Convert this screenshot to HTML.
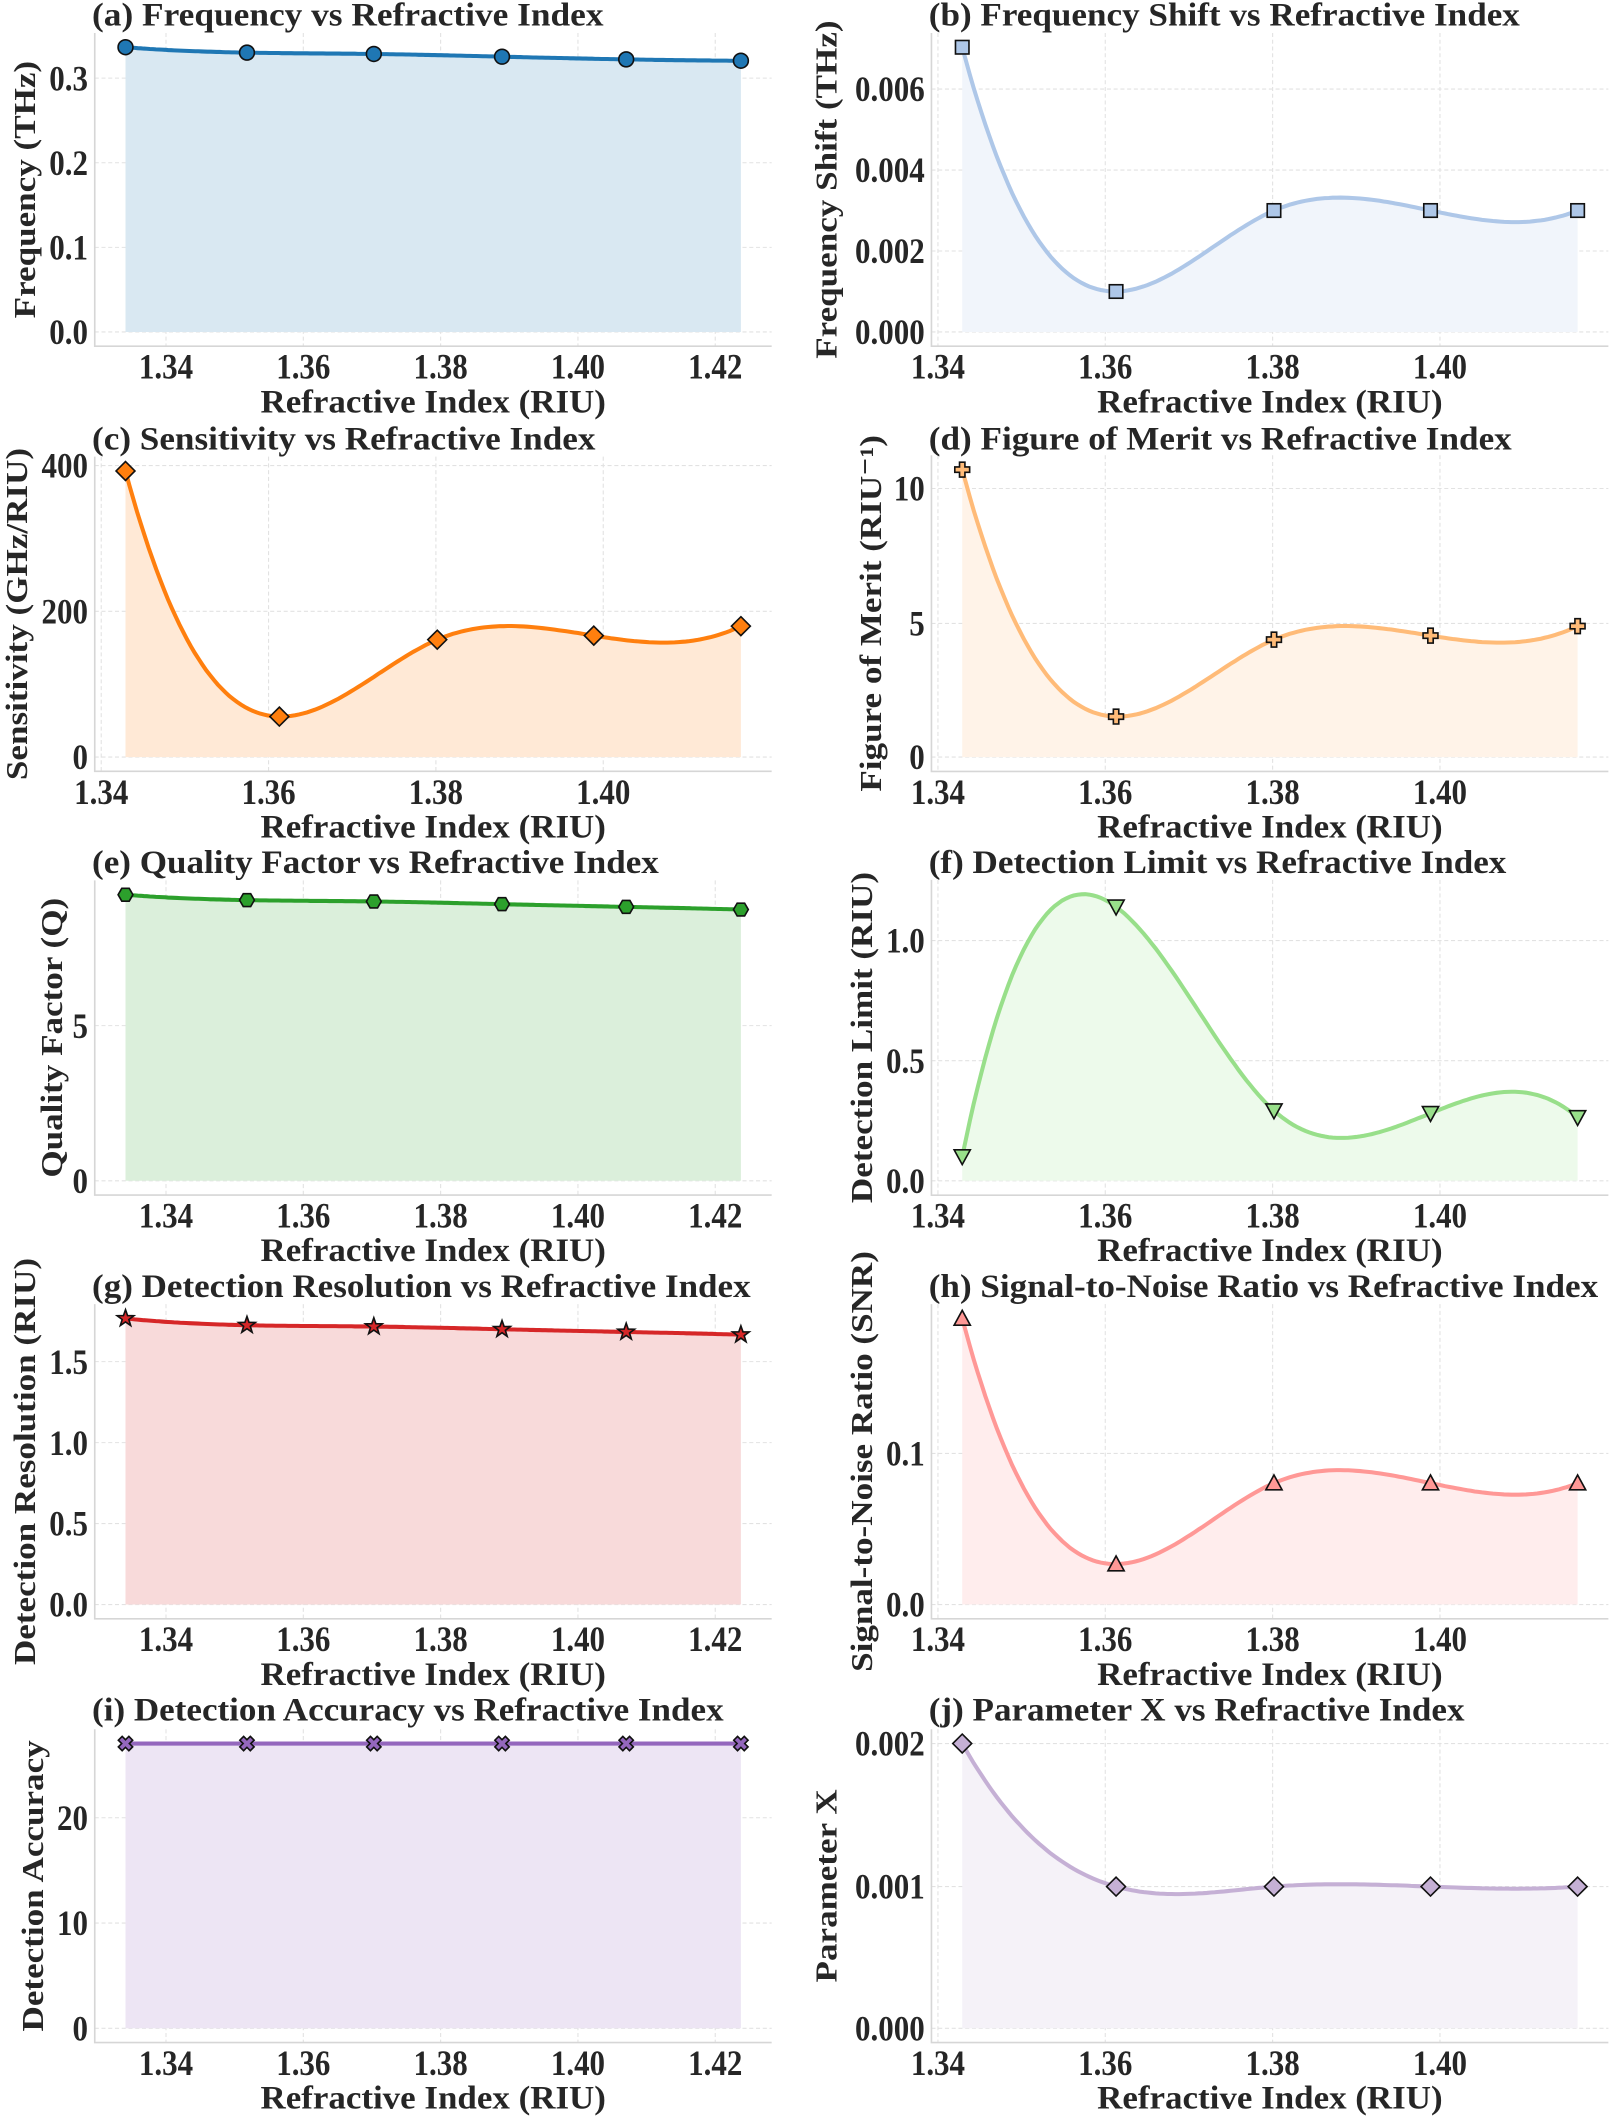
<!DOCTYPE html>
<html><head><meta charset="utf-8"><style>
html,body{margin:0;padding:0;background:#fff;}
svg{display:block;}
text{font-family:"Liberation Serif","DejaVu Serif",serif;font-weight:bold;fill:#262626;}
</style></head><body>
<svg id="s" width="1610" height="2116" viewBox="0 0 1193 1568" preserveAspectRatio="none" xmlns="http://www.w3.org/2000/svg"></svg>
<script>
const S=document.getElementById('s');let h='';
const L6=[93,183,277,372,464,549],L5=[93,207,324,440,549];
const P=[
{t:'(a) Frequency vs Refractive Index',tw:379,yl:'Frequency (THz)',ylx:18,col:0,r:0,xs:L6,ys:[35,39,40,42,44,45],z:246,c:'#1f77b4',m:'o',yt:[['0.0',246],['0.1',183.3],['0.2',120.6],['0.3',57.9]]},
{t:'(b) Frequency Shift vs Refractive Index',tw:438,yl:'Frequency Shift (THz)',ylx:612,col:1,r:0,xs:L5,ys:[35,216,156,156,156],z:246,c:'#aec7e8',m:'s',yt:[['0.000',246],['0.002',186],['0.004',126],['0.006',66]]},
{t:'(c) Sensitivity vs Refractive Index',tw:373,yl:'Sensitivity (GHz/RIU)',ylx:12,col:0,r:1,xs:L5,ys:[349,531,474,471,464],z:561,c:'#ff7f0e',m:'D',yt:[['0',561],['200',453],['400',345]]},
{t:'(d) Figure of Merit vs Refractive Index',tw:432,yl:'Figure of Merit (RIU\u207B\u00B9)',ylx:645,col:1,r:1,xs:L5,ys:[348,531,474,471,464],z:561,c:'#ffbb78',m:'P',yt:[['0',561],['5',462],['10',362]]},
{t:'(e) Quality Factor vs Refractive Index',tw:420,yl:'Quality Factor (Q)',ylx:38,col:0,r:2,xs:L6,ys:[663,667,668,670,672,674],z:875,c:'#2ca02c',m:'h',yt:[['0',875],['5',760]]},
{t:'(f) Detection Limit vs Refractive Index',tw:428,yl:'Detection Limit (RIU)',ylx:638,col:1,r:2,xs:L5,ys:[857,672,823,825,828],z:875,c:'#98df8a',m:'v',yt:[['0.0',875],['0.5',786],['1.0',697]]},
{t:'(g) Detection Resolution vs Refractive Index',tw:488,yl:'Detection Resolution (RIU)',ylx:18,col:0,r:3,xs:L6,ys:[977,982,983,985,987,989],z:1189,c:'#d62728',m:'*',yt:[['0.0',1189],['0.5',1129],['1.0',1069],['1.5',1009]]},
{t:'(h) Signal-to-Noise Ratio vs Refractive Index',tw:496,yl:'Signal-to-Noise Ratio (SNR)',ylx:638,col:1,r:3,xs:L5,ys:[977,1159,1099,1099,1099],z:1189,c:'#ff9896',m:'^',yt:[['0.0',1189],['0.1',1077]]},
{t:'(i) Detection Accuracy vs Refractive Index',tw:468,yl:'Detection Accuracy',ylx:24,col:0,r:4,xs:L6,ys:[1292,1292,1292,1292,1292,1292],z:1503,c:'#9467bd',m:'X',yt:[['0',1503],['10',1425],['20',1347]]},
{t:'(j) Parameter X vs Refractive Index',tw:397,yl:'Parameter X',ylx:612,col:1,r:4,xs:L5,ys:[1292,1398,1398,1398,1398],z:1503,c:'#c5b0d5',m:'D',yt:[['0.000',1503],['0.001',1398],['0.002',1292]]}
];
function spline(x,y){const n=x.length,hh=[];for(let i=0;i<n-1;i++)hh.push(x[i+1]-x[i]);
const A=[],B=[];for(let i=0;i<n;i++){A.push(new Array(n).fill(0));B.push(0);}
for(let i=1;i<n-1;i++){A[i][i-1]=hh[i-1];A[i][i]=2*(hh[i-1]+hh[i]);A[i][i+1]=hh[i];B[i]=6*((y[i+1]-y[i])/hh[i]-(y[i]-y[i-1])/hh[i-1]);}
A[0][0]=-1/hh[0];A[0][1]=1/hh[0]+1/hh[1];A[0][2]=-1/hh[1];
A[n-1][n-3]=-1/hh[n-3];A[n-1][n-2]=1/hh[n-3]+1/hh[n-2];A[n-1][n-1]=-1/hh[n-2];
for(let k=0;k<n;k++){let p=k;for(let i=k+1;i<n;i++)if(Math.abs(A[i][k])>Math.abs(A[p][k]))p=i;[A[k],A[p]]=[A[p],A[k]];[B[k],B[p]]=[B[p],B[k]];
for(let i=0;i<n;i++)if(i!==k){const f=A[i][k]/A[k][k];for(let j=k;j<n;j++)A[i][j]-=f*A[k][j];B[i]-=f*B[k];}}
const M=B.map((b,i)=>b/A[i][i]);const pts=[];
for(let i=0;i<n-1;i++){const H=hh[i];for(let s=0;s<=40;s++){const t=x[i]+H*s/40;const a=x[i+1]-t,b=t-x[i];
pts.push([t,M[i]*a*a*a/(6*H)+M[i+1]*b*b*b/(6*H)+(y[i]/H-M[i]*H/6)*a+(y[i+1]/H-M[i+1]*H/6)*b]);}}return pts;}
function marker(m,x,y,c){const st=`fill="${c}" stroke="#111" stroke-width="1.2"`;
if(m==='o')return `<circle cx="${x}" cy="${y}" r="5.5" ${st}/>`;
if(m==='s')return `<rect x="${x-5}" y="${y-5}" width="10" height="10" ${st}/>`;
if(m==='D')return `<polygon points="${x},${y-7} ${x+7},${y} ${x},${y+7} ${x-7},${y}" ${st}/>`;
if(m==='v')return `<polygon points="${x-6},${y-5} ${x+6},${y-5} ${x},${y+6}" ${st}/>`;
if(m==='^')return `<polygon points="${x-6},${y+5} ${x+6},${y+5} ${x},${y-6}" ${st}/>`;
if(m==='h'){let p=[];for(let k=0;k<6;k++){const a=Math.PI/3*k+Math.PI/6;p.push((x+5.5*Math.sin(a))+','+(y-5.5*Math.cos(a)));}return `<polygon points="${p.join(' ')}" ${st}/>`;}
if(m==='*'){let p=[];for(let k=0;k<10;k++){const rr=k%2?2.6:6.5,a=Math.PI/5*k;p.push((x+rr*Math.sin(a))+','+(y-rr*Math.cos(a)));}return `<polygon points="${p.join(' ')}" ${st}/>`;}
if(m==='P'){const a=2,b=5.5;return `<polygon points="${x-a},${y-b} ${x+a},${y-b} ${x+a},${y-a} ${x+b},${y-a} ${x+b},${y+a} ${x+a},${y+a} ${x+a},${y+b} ${x-a},${y+b} ${x-a},${y+a} ${x-b},${y+a} ${x-b},${y-a} ${x-a},${y-a}" ${st}/>`;}
if(m==='X'){return `<g transform="translate(${x},${y}) rotate(45)"><polygon points="-2,-5.5 2,-5.5 2,-2 5.5,-2 5.5,2 2,2 2,5.5 -2,5.5 -2,2 -5.5,2 -5.5,-2 -2,-2" ${st}/></g>`;}}
function hex(c,a){const r=parseInt(c.slice(1,3),16),g=parseInt(c.slice(3,5),16),b=parseInt(c.slice(5,7),16);return `rgb(${Math.round(255-a*(255-r))},${Math.round(255-a*(255-g))},${Math.round(255-a*(255-b))})`;}
for(const p of P){const off=p.col*620,xs=p.xs.map(v=>v+off);
const pts=spline(xs,p.ys);let mn=Math.min(...pts.map(q=>q[1]));
const top=mn-0.05*(p.z-mn),bot=p.z+0.05*(p.z-mn);
const Lx=xs[0]-22.8,Rx=xs[xs.length-1]+22.8;
let xt;if(xs.length===6)xt=['1.34','1.36','1.38','1.40','1.42'].map((s,i)=>[s,123+off+101.75*i]);
else xt=['1.34','1.36','1.38','1.40'].map((s,i)=>[s,75+off+124*i]);
for(const [s,x] of xt)h+=`<line x1="${x}" y1="${top}" x2="${x}" y2="${bot}" stroke="#e2e2e2" stroke-width="0.8" stroke-dasharray="3,2"/>`;
for(const [s,y] of p.yt)h+=`<line x1="${Lx}" y1="${y}" x2="${Rx}" y2="${y}" stroke="#e2e2e2" stroke-width="0.8" stroke-dasharray="3,2"/>`;
let d='M'+xs[0]+','+p.z+' '+pts.map(q=>'L'+q[0].toFixed(1)+','+q[1].toFixed(1)).join(' ')+' L'+xs[xs.length-1]+','+p.z+'Z';
h+=`<path d="${d}" fill="${hex(p.c,0.17)}"/>`;
h+=`<path d="${'M'+pts.map(q=>q[0].toFixed(1)+','+q[1].toFixed(1)).join(' L')}" fill="none" stroke="${p.c}" stroke-width="3"/>`;
for(let i=0;i<xs.length;i++)h+=marker(p.m,xs[i],p.ys[i],p.c);
h+=`<path d="M${Lx},${top} L${Lx},${bot} L${Rx},${bot}" fill="none" stroke="#d6d6d6" stroke-width="1.2"/>`;
for(const [s,x] of xt)h+=`<text transform="translate(${x},${bot+24}) scale(0.85,1)" font-size="27" text-anchor="middle">${s}</text>`;
for(const [s,y] of p.yt)h+=`<text transform="translate(${Lx-5},${y+9}) scale(0.85,1)" font-size="27" text-anchor="end">${s}</text>`;
h+=`<text x="${Lx-2}" y="${p.r*314+19}" font-size="24" textLength="${p.tw}" lengthAdjust="spacingAndGlyphs">${p.t}</text>`;
h+=`<text x="${(Lx+Rx)/2}" y="${bot+49}" font-size="24" text-anchor="middle" textLength="256" lengthAdjust="spacingAndGlyphs">Refractive Index (RIU)</text>`;
h+=`<text transform="translate(${p.ylx+8},${(top+bot)/2}) rotate(-90) scale(1,0.88)" font-size="26" text-anchor="middle">${p.yl}</text>`;
}
S.innerHTML=h;
</script>
</body></html>
